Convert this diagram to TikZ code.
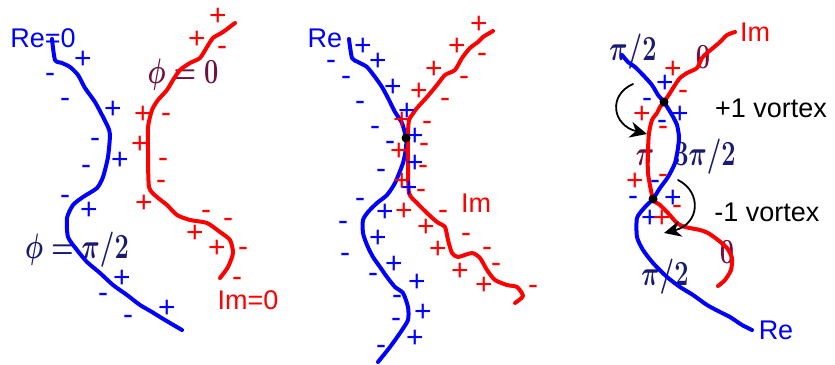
\documentclass[tikz,border=0pt]{standalone}
\usepackage{amsmath,amssymb}
\usepackage[no-math]{fontspec}
\setmainfont{Liberation Sans}
\usetikzlibrary{arrows.meta}
\definecolor{phimaroon}{RGB}{112,16,64}
\definecolor{phinavy}{RGB}{26,26,112}

\begin{document}
\begin{tikzpicture}[x=1pt,y=-1pt,line cap=round,line join=round,
  >={Stealth[length=17pt,width=16pt]},
  font=\fontsize{27}{32}\selectfont,
  curve/.style={line width=4pt},
  pl/.style={anchor=base,yshift=-10.5pt,inner sep=0pt,font=\fontsize{30}{34}\selectfont},
  mi/.style={anchor=base,yshift=-7.2pt,inner sep=0pt,font=\fontsize{30}{34}\selectfont},
  phase/.style={anchor=base,xscale=1.02,yscale=1.42,inner sep=0pt,font=\fontsize{24.88}{30}\selectfont\boldmath},
  dot/.style={circle,fill=black,inner sep=0pt,minimum size=9pt}]
\useasboundingbox (0,0) rectangle (835,364);
% phase labels (under the curves)
\node[phase,phimaroon] (phiA0) at (183,83) {$\phi=0$};
\node[phase,phinavy] (phiA90) at (77,258) {$\phi=\pi/2$};
\node[phase,phinavy] (phiC90a) at (633,60) {$\pi/2$};
\node[phase,phimaroon] (phiC0a) at (703,68) {$0$};
\node[phase,phimaroon] (phiC180) at (645,165) {$\pi$};
\node[phase,phinavy] (phiC270) at (705,165) {$3\pi/2$};
\node[phase,phimaroon] (phiC0b) at (727,263) {$0$};
\node[phase,phinavy] (phiC90b) at (665,285) {$\pi/2$};
% panel a
\draw[curve,blue] plot[smooth,tension=0.4] coordinates {(52,39) (55,60) (62,63) (70,67) (78,75) (85,88) (95,102) (102,115) (108,127) (110,135) (108,157) (103,177) (97,188) (83,197) (73,205) (67,218) (68,237) (77,250) (87,262) (100,273) (113,285) (127,295) (140,305) (152,312) (160,317) (170,323) (182,330)};
\draw[curve,red] plot[smooth,tension=0.4] coordinates {(235,23) (223,32) (213,38) (207,47) (200,58) (190,63) (180,70) (173,80) (167,90) (158,100) (152,110) (148,127) (148,150) (149,187) (157,197) (167,205) (177,215) (190,220) (207,223) (220,232) (230,240) (233,253) (228,267) (220,278)};
\node[blue] (reA) at (43,38) {Re=0};
\node[red] (imA) at (248,300) {Im=0};
\foreach \x/\y [count=\i] in {83/58,113/108,120/159,89/209,122/277,167/307}
  \node[pl,blue] (aBp\i) at (\x,\y) {+};
\foreach \x/\y [count=\i] in {50/75,65/100,95/140,86/167,65/197,103/295,128/317}
  \node[mi,blue] (aBm\i) at (\x,\y) {-};
\foreach \x/\y [count=\i] in {218/15,197/38,143/113,140/143,144/202,195/232,217/247}
  \node[pl,red] (aRp\i) at (\x,\y) {+};
\foreach \x/\y [count=\i] in {222/48,166/115,163/160,161/182,206/212,228/220,243/249,237/279}
  \node[mi,red] (aRm\i) at (\x,\y) {-};
% panel b
\draw[curve,blue] plot[smooth,tension=0.4] coordinates {(349,39) (352,58) (358,62) (367,67) (375,77) (382,87) (388,98) (395,112) (402,123) (406,138) (406,148) (403,163) (395,183) (387,195) (377,203) (368,212) (363,220) (363,233) (367,245) (373,257) (380,267) (387,277) (395,287) (403,293) (408,307) (408,320) (400,333) (390,347) (378,362)};
\draw[curve,red] plot[smooth,tension=0.4] coordinates {(493,31) (483,37) (478,42) (470,48) (462,58) (455,70) (445,75) (437,85) (427,97) (417,108) (412,115) (409,120) (408,133) (408,163) (409,193) (417,203) (427,213) (437,222) (445,227) (448,240) (452,253) (458,257) (472,253) (480,258) (487,270) (495,280) (507,285) (517,287) (523,296) (515,303)};
\node[blue] (reB) at (325,38) {Re};
\node[red] (imB) at (476,203) {Im};
\foreach \x/\y [count=\i] in {363/45,378/60,393/86,407/110,415/135,415/162,409/187,385/211,378/237,394/263,417/281,423/311,415/337}
  \node[pl,blue] (bBp\i) at (\x,\y) {+};
\foreach \x/\y [count=\i] in {331/62,346/78,360/103,375/128,390/143,381/171,360/200,343/223,345/255,373/275,397/297,396/320,381/347}
  \node[mi,blue] (bBm\i) at (\x,\y) {-};
\foreach \x/\y [count=\i] in {479/23,457/45,434/68,419/90,402/119,399/150,402/180,404/210,426/226,438/248,460/270,484/284}
  \node[pl,red] (bRp\i) at (\x,\y) {+};
\foreach \x/\y [count=\i] in {482/55,464/78,445/100,427/123,424/145,423/167,421/191,443/212,466/235,487/249,496/265,533/287}
  \node[mi,red] (bRm\i) at (\x,\y) {-};
\node[dot] (saddle) at (406,138) {};
% panel c
\draw[curve,blue] plot[smooth,tension=0.4] coordinates {(622,55) (628,62) (635,67) (643,75) (652,85) (658,95) (664,102) (672,115) (677,125) (679,137) (678,148) (675,163) (668,177) (660,188) (653,199) (645,207) (637,218) (637,237) (643,250) (653,263) (667,277) (680,287) (693,295) (707,305) (720,312) (730,317) (742,325) (752,330)};
\draw[curve,red] plot[smooth,tension=0.4] coordinates {(735,32) (727,35) (720,42) (713,48) (707,53) (702,58) (697,68) (687,73) (680,78) (675,85) (670,93) (664,102) (660,107) (657,113) (652,120) (649,133) (648,150) (648,173) (653,199) (660,205) (668,213) (677,223) (685,227) (700,230) (708,233) (718,240) (727,248) (732,258) (731,270) (725,280) (718,286)};
\node[red] (imC) at (755,32) {Im};
\node[blue] (reC) at (776,330) {Re};
\node (vxUp) at (771,108) {+1 vortex};
\node (vxDn) at (767,212) {-1 vortex};
\foreach \x/\y [count=\i] in {665/82,680/113,673/197,650/217}
  \node[pl,blue] (cBp\i) at (\x,\y) {+};
\foreach \x/\y [count=\i] in {647/100,662/122,655/182,633/198}
  \node[mi,blue] (cBm\i) at (\x,\y) {-};
\foreach \x/\y [count=\i] in {673/68,642/113,635/180,662/217}
  \node[pl,red] (cRp\i) at (\x,\y) {+};
\foreach \x/\y [count=\i] in {683/92,663/128,663/176,677/207}
  \node[mi,red] (cRm\i) at (\x,\y) {-};
\node[dot] (vortex) at (664,102) {};
\node[dot] (antivortex) at (653,199) {};
\coordinate (turnAs) at (633,84);
\coordinate (turnAe) at (647,134);
\coordinate (turnBs) at (678,180);
\coordinate (turnBe) at (664,233);
\draw[->,line width=1.8pt] (turnAs) .. controls (608,95) and (612,125) .. (turnAe);
\draw[->,line width=1.8pt] (turnBs) .. controls (702,192) and (700,224) .. (turnBe);
\end{tikzpicture}
\end{document}
